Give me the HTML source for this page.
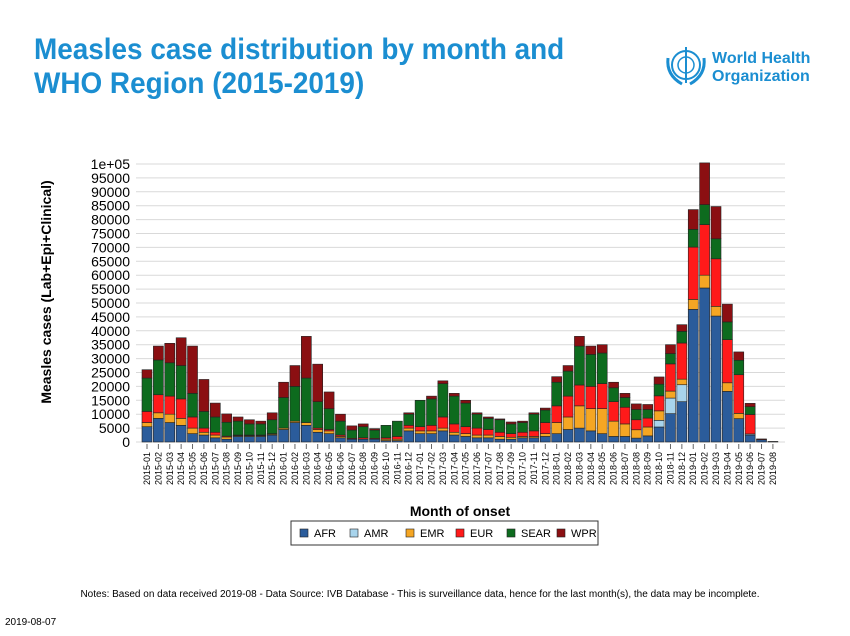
<!DOCTYPE html>
<html><head><meta charset="utf-8">
<style>
body{margin:0;background:#fff;width:850px;height:636px;overflow:hidden;font-family:"Liberation Sans",sans-serif;}
.title{position:absolute;left:34px;top:33px;color:#1b8ed1;font-weight:bold;font-size:30px;line-height:34px;transform:scaleX(0.93);transform-origin:0 0;white-space:nowrap;}
</style></head><body>
<div class="title">Measles case distribution by month and<br>WHO Region (2015-2019)</div>
<svg width="850" height="636" style="position:absolute;left:0;top:0" id="svg">
<g>
<circle cx="686" cy="65" r="14" fill="none" stroke="#1b8ed1" stroke-width="2"/>
<circle cx="686" cy="65" r="8" fill="none" stroke="#1b8ed1" stroke-width="1.5"/>
<line x1="686" y1="47" x2="686" y2="83" stroke="#1b8ed1" stroke-width="2"/>
<path d="M668 58 Q666 75 682 84 M704 58 Q706 75 690 84" fill="none" stroke="#1b8ed1" stroke-width="3"/>
<text x="712" y="63" fill="#1b8ed1" font-size="16" font-weight="bold">World Health</text>
<text x="712" y="81" fill="#1b8ed1" font-size="16" font-weight="bold">Organization</text>
</g>
<g id="plot"></g>
<text x="0" y="0" transform="translate(51,292) rotate(-90)" text-anchor="middle" font-size="14" font-weight="bold">Measles cases (Lab+Epi+Clinical)</text>
<text x="460" y="516" text-anchor="middle" font-size="14" font-weight="bold">Month of onset</text>
<g id="legend">
<rect x="291" y="521" width="307" height="24" fill="#fff" stroke="#333" stroke-width="1"/>
</g>
<text x="420" y="597" text-anchor="middle" font-size="10">Notes: Based on data received 2019-08 - Data Source: IVB Database - This is surveillance data, hence for the last month(s), the data may be incomplete.</text>
<text x="5" y="625" font-size="10">2019-08-07</text>
</svg>
<script>
const months = [];
for(let y=2015;y<=2019;y++)for(let m=1;m<=12;m++){if(y===2019&&m>8)break;months.push(y+'-'+String(m).padStart(2,'0'));}
const seriesNames = ['AFR','AMR','EMR','EUR','SEAR','WPR'];
const colors = ['#2b5c9b','#a8d4ec','#f5a623','#ff1a1a','#0d6b1e','#8b0f12'];
// values in thousands
const AFR = [5.5,8.5,7,6,3,2.5,1.5,1,2,2,2,2.5, 4.5,7,6,3.5,3,1.5,1,1,1,0.5,0.5,4, 3,3,4,2.5,2,1.5,1.5,1,1,1.5,1.5,2, 3,4.5,5,4,3,2,2,1.4,2.2,5.4,10.2,14.5, 47.7,55.4,45.3,18.2,8.4,2.5,0.8,0.2];
const AMR = [0,0,0,0,0,0,0,0,0,0,0,0, 0,0,0,0,0,0,0,0,0,0,0,0, 0,0,0,0,0,0,0,0,0,0,0,0, 0,0,0,0,0,0,0,0,0,2.4,5.6,6.1, 0,0,0,0,0,0.4,0,0];
const EMR = [1.5,2,3,2.5,2,1,1,0.8,0.3,0.3,0.3,0.3, 0.5,0.5,1,1,1,0.5,0,0,0,0.5,0.5,1, 1,1,1,1,1,1,1,1,0.7,0.5,0.5,1, 4,4.5,8,8,9,5.5,4.5,3,3.2,3.4,2.5,2, 3.6,4.6,3.5,3.1,1.9,0,0,0];
const EUR = [4,6.5,6.5,7,4,1.5,1,0.3,0.2,0.2,0.2,0.2, 0,0,0,0.5,0.5,0.5,0.3,0.5,0.3,0.5,1,1, 1.5,2,4,3,2.5,2.5,2,1.5,1.3,1.5,2,4, 6,7.5,7.5,8,9,7,6,3.6,3.2,5.4,9.8,13, 18.8,18.2,17.1,15.5,13.9,7,0,0];
const SEAR = [12,12.5,12,12,8.5,6,5.5,5,5,4,4,5, 11,12.5,16,9.5,7.5,5,3,4,3,4.5,5.5,4, 9.5,9.5,12,10,8.5,5,4,4.5,3.5,3.5,6,4.5, 8.5,9,14,11.5,11,5,3.5,3.7,3.1,4.2,3.7,4.2, 6.4,7.2,7.2,6.4,5.2,2.8,0,0];
const WPR = [3,5,7,10,17,11.5,5,3,1.5,1.5,1,2.5, 5.5,7.5,15,13.5,6,2.5,1.5,1,0.5,0,0,0.5, 0,1,1,1,1,0.5,0.5,0.3,0.7,0.5,0.5,0.7, 2,2,3.5,3,3,2,1.5,2,1.8,2.6,3.2,2.4, 7.1,15,11.6,6.4,3,1.2,0.3,0];
const series = [AFR,AMR,EMR,EUR,SEAR,WPR];
const yTicks = [0,5000,10000,15000,20000,25000,30000,35000,40000,45000,50000,55000,60000,65000,70000,75000,80000,85000,90000,95000,100000];
const NS='http://www.w3.org/2000/svg';
const x0=147, dx=11.38, y0=442, yTop=164;
const yS = v => y0 - v/100000*(y0-yTop);
const xS = i => x0 + i*dx;
const plot=document.getElementById('plot');
function mk(t,a,p){const e=document.createElementNS(NS,t);for(const k in a)e.setAttribute(k,a[k]);(p||plot).appendChild(e);return e;}
yTicks.forEach(v=>{
  const l=mk('line',{x1:136,x2:785,y1:yS(v),y2:yS(v),stroke:'#d9d9d9','stroke-width':1});
  
  
  const t=mk('text',{x:130,y:yS(v)+5,'text-anchor':'end','font-size':14});
  t.textContent = v===100000?'1e+05':String(v);
  
  
});
months.forEach((m,i)=>{
  let c=0;
  series.forEach((s,k)=>{
    const v=s[i]*1000; if(v<=0)return;
    const r=mk('rect',{x:xS(i)-5,y:yS(c+v),width:10,height:yS(c)-yS(c+v),fill:colors[k],stroke:'#222','stroke-width':0.6});
    
    
    c+=v;
  });
  mk('line',{x1:xS(i),x2:xS(i),y1:444,y2:449,stroke:'#666'});
  const t=mk('text',{x:0,y:0,transform:`translate(${xS(i)+3},${452}) rotate(-90)`,'text-anchor':'end','font-size':9});
  t.textContent=m;
  
  
});
const lg=document.getElementById('legend');
const lx=[300,350,406,456,507,557];
seriesNames.forEach((n,k)=>{
  const r=mk('rect',{x:lx[k],y:529,width:8,height:8,fill:colors[k],stroke:'#222','stroke-width':0.6},lg);
  
  
  const t=mk('text',{x:lx[k]+14,y:537,'font-size':11},lg);
  t.textContent=n;
  
  
});
</script>
</body></html>
